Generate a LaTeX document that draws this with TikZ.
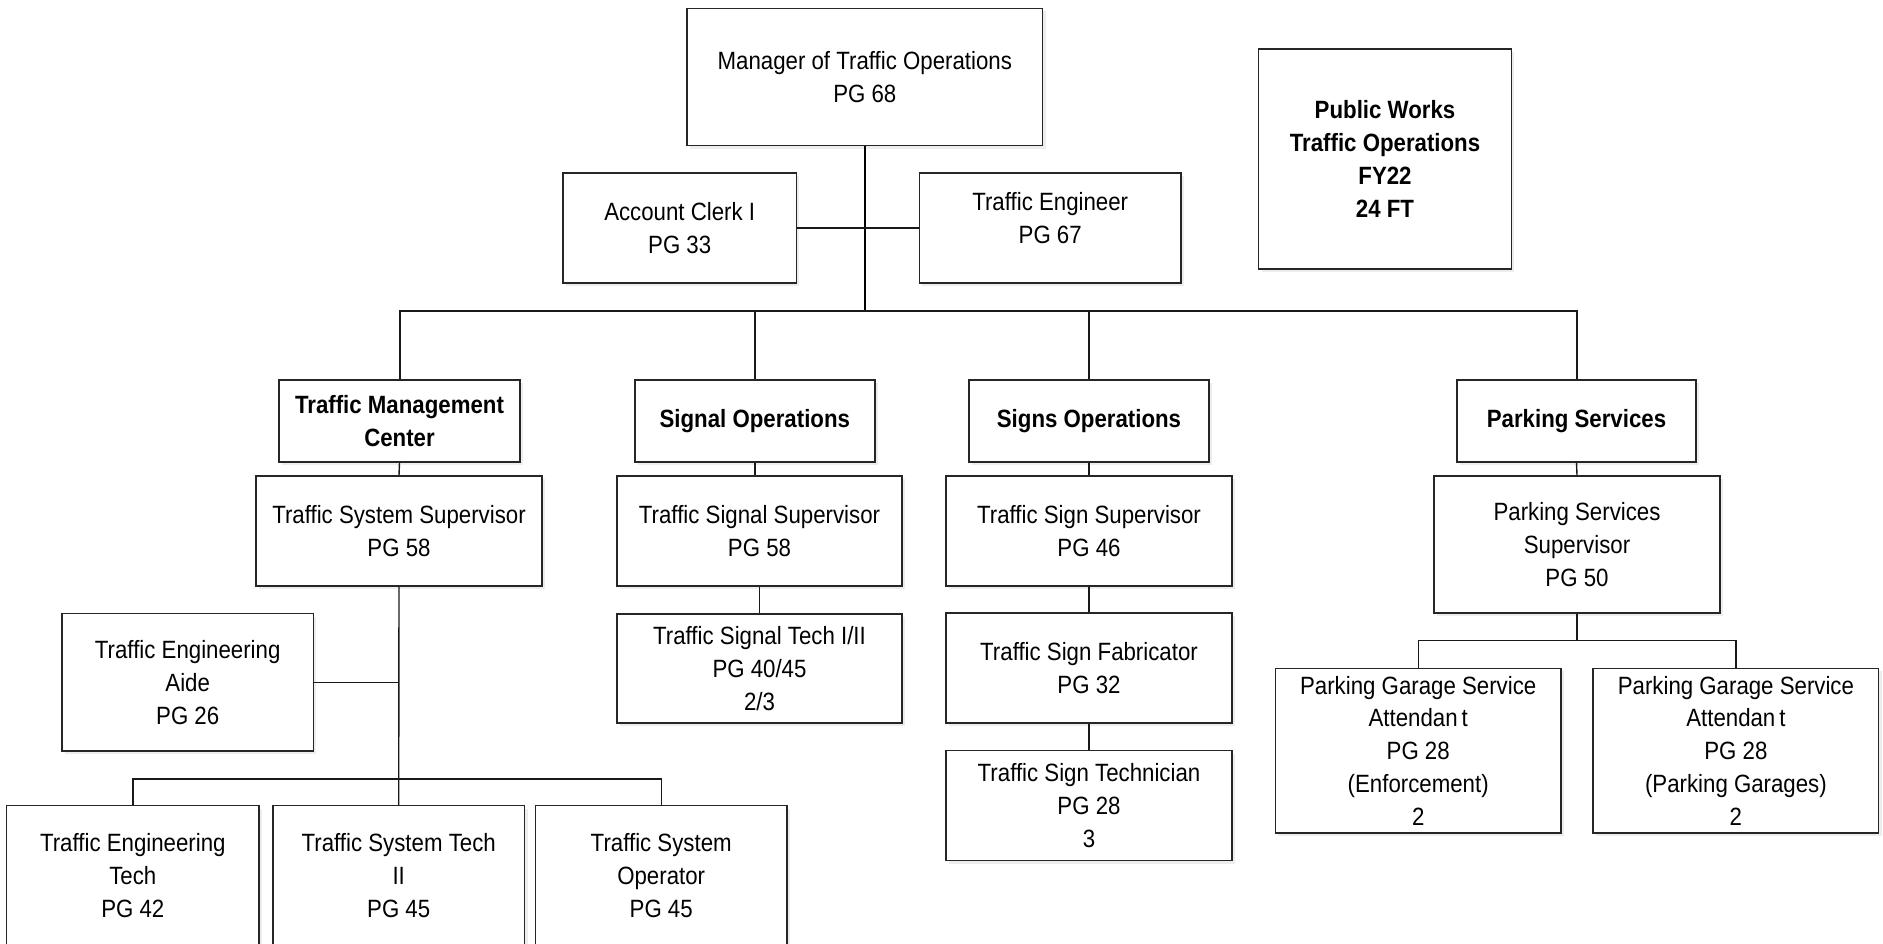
\documentclass[tikz,border=0pt]{standalone}
\usepackage{fontspec}
\setmainfont{Liberation Sans}[FakeStretch=0.89]
\usetikzlibrary{calc,shadows}
\begin{document}
\begin{tikzpicture}[x=0.5pt,y=-0.5pt,
  every node/.style={font=\fontsize{12.5pt}{16.4pt}\selectfont, align=center, inner sep=0pt},
  box/.style 2 args={draw=black!85, line width=0.7pt, fill=white,
    general shadow={fill=black!7, shadow xshift=1.5pt, shadow yshift=-1.5pt},
    minimum width=#1*0.5pt, minimum height=#2*0.5pt},
  bold/.style={font=\fontsize{12.5pt}{16.4pt}\selectfont\bfseries},
  conn/.style={line width=0.7pt, draw=black!90},
  busline/.style={line width=1pt, draw=black!90},
  trunk/.style={line width=1.2pt, draw=black}
]
\useasboundingbox (0,0) rectangle (1883,943);

% top level
\node[box={355.6}{137.4}] (mgr) at (864.8,77) {Manager of Traffic Operations\\PG 68};
\node[box={252.5}{220},bold] (pw) at (1385,159) {Public Works\\Traffic Operations\\FY22\\24 FT};
\node[box={233.4}{110}] (clerk) at (679.7,228) {Account Clerk I\\PG 33};
\node[box={261.5}{110}] (te) at (1050.2,228) {};
\node (tetext) at (1050.2,218) {Traffic Engineer\\PG 67};

% division heads
\node[box={241}{82},bold] (tmc) at (399.5,421) {Traffic Management\\Center};
\node[box={240}{82},bold] (sig) at (754.8,421) {Signal Operations};
\node[box={240}{82},bold] (sign) at (1089,421) {Signs Operations};
\node[box={239}{82},bold] (park) at (1576.5,421) {Parking Services};

% supervisors
\node[box={286}{110}] (tss) at (399,531) {Traffic System Supervisor\\PG 58};
\node[box={285}{110}] (tsigs) at (759.5,531) {Traffic Signal Supervisor\\PG 58};
\node[box={286}{110}] (tsgs) at (1089,531) {Traffic Sign Supervisor\\PG 46};
\node[box={286}{137}] (pss) at (1577,544.5) {Parking Services\\Supervisor\\PG 50};

% staff
\node[box={285}{109}] (stech) at (759.5,668.5) {Traffic Signal Tech I/II\\PG 40/45\\2/3};
\node[box={286}{110}] (fab) at (1089,668) {Traffic Sign Fabricator\\PG 32};
\node[box={286}{110}] (stechn) at (1089,805.5) {Traffic Sign Technician\\PG 28\\3};
\node[box={251.5}{137.4}] (aide) at (187.7,682.3) {Traffic Engineering\\Aide\\PG 26};
\node[box={252.4}{140}] (tet) at (132.8,875.5) {Traffic Engineering\\Tech\\PG 42};
\node[box={251.8}{140}] (tst) at (398.7,875.5) {Traffic System Tech\\II\\PG 45};
\node[box={251.6}{140}] (tso) at (661.2,875.5) {Traffic System\\Operator\\PG 45};
\node[box={285.5}{164.5}] (pga1) at (1418.2,750.7) {Parking Garage Service\\Attendan\hspace{2pt}t\\PG 28\\(Enforcement)\\2};
\node[box={285.5}{164.5}] (pga2) at (1735.9,750.7) {Parking Garage Service\\Attendan\hspace{2pt}t\\PG 28\\(Parking Garages)\\2};

% connectors
\coordinate (bus) at (864.8,310.5);
\coordinate (bus2) at (398.7,779);
\coordinate (bus3) at (1577,640.5);

\draw[trunk] (mgr.south) -- (bus);
\draw[conn] (clerk.east) -- (te.west);
\draw[busline] (tmc.north) |- (bus) -| (park.north);
\draw[conn] (sig.north) -- (sig.north |- bus);
\draw[conn] (sign.north) -- (sign.north |- bus);
\draw[conn] (tmc.south) -- (tss.north);
\draw[conn] (sig.south) -- (sig.south |- tsigs.north);
\draw[conn] (sign.south) -- (tsgs.north);
\draw[conn] (park.south) -- (pss.north);
\draw[conn] (tss.south) -- (tst.north);
\draw[conn] (aide.east) -- (aide.east -| tss.south);
\draw[conn] (tet.north) |- (bus2) -| (tso.north);
\draw[conn] (tsigs.south) -- (stech.north);
\draw[conn] (tsgs.south) -- (fab.north);
\draw[conn] (fab.south) -- (stechn.north);
\draw[conn] (pss.south) -- (bus3);
\draw[conn] (pga1.north) |- (bus3) -| (pga2.north);
\end{tikzpicture}
\end{document}
